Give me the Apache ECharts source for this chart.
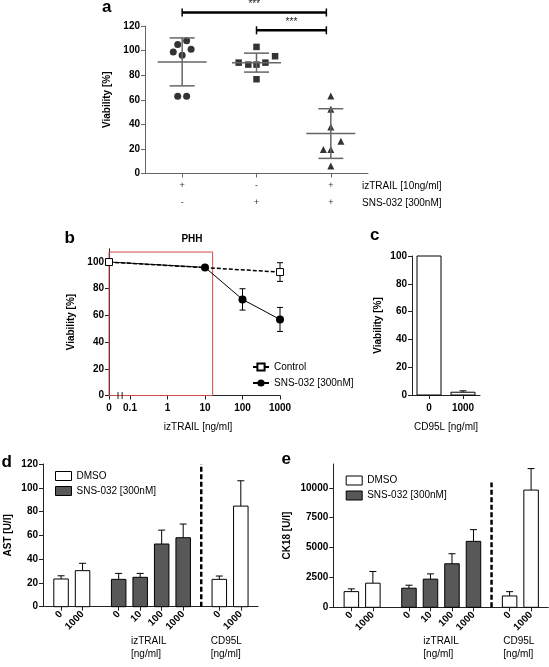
<!DOCTYPE html>
<html><head><meta charset="utf-8">
<script src="https://cdn.jsdelivr.net/npm/echarts@6/dist/echarts.min.js"></script>
<style>html,body{margin:0;padding:0;background:#fff}#c{width:549px;height:667px}</style>
</head><body><div id="c"></div>
<script>
// ================= DATA =================
// Panel a: viability per condition (dot plot)
const trailSignA = ['+', '-', '+'];
const snsSignA   = ['-', '+', '+'];
const viaA1 = [98.9, 104.9, 107.9, 101.1, 96.2, 62.9, 62.9];
const viaA2 = [90.2, 88.6, 103.0, 88.6, 90.2, 95.4, 76.7];
const viaA3 = [63.1, 52.3, 37.9, 26.3, 19.5, 19.5, 6.2];
const meanA = [90.8, 90.2, 32.5];
const sdA   = [19.5, 7.7, 20.2];
const sigA  = [[0, 2, '***'], [1, 2, '***']];   // group from, group to, label
const sigLevelA = [131, 116.5];
const ticksA = [0, 20, 40, 60, 80, 100, 120];

// Panel b: PHH viability vs izTRAIL concentration
const concCtrlB = [0, 1000];
const ctrlB     = [100, 92.5];
const ctrlErrB  = [0, 7];
const concSnsB  = [0, 10, 100, 1000];
const snsB      = [100, 96, 72, 57];
const snsErrB   = [0, 0, 8, 9];
const tickConcB = [0, 0.1, 1, 10, 100, 1000];
const tickLabelsB = ['0', '0.1', '1', '10', '100', '1000'];
const boxB = [0, 16, 107.5];   // highlighted range: conc from, conc to, viability top

// Panel c: CD95L viability
const catsC = ['0', '1000'];
const viaC  = [100, 2];
const errC  = [0, 1];

// Panels d/e
const catsDE  = ['0', '1000', '0', '10', '100', '1000', '0', '1000'];
const treatDE = ['DMSO', 'DMSO', 'SNS', 'SNS', 'SNS', 'SNS', 'DMSO', 'DMSO'];
const groupDE = [0, 0, 1, 1, 1, 1, 2, 2];
const astD    = [23.3, 30.3, 23.0, 24.7, 52.7, 58.0, 23.0, 84.6];
const astErrD = [2.7, 6.2, 5.0, 3.3, 11.7, 11.5, 2.8, 21.3];
const ck18E    = [1313, 2020, 1600, 2357, 3645, 5522, 950, 9815];
const ck18ErrE = [230, 980, 250, 440, 840, 980, 360, 1800];
const ticksE = [0, 2500, 5000, 7500, 10000];

// ================= LAYOUT =================
const FONT = '"Liberation Sans", Arial, sans-serif';
const jitA = [
  [-0.12, -0.06, 0.06, 0.12, 0, -0.06, 0.06],
  [-0.24, -0.11, 0, 0, 0.12, 0.25, 0],
  [0, 0, 0, 0.135, -0.1, 0, 0]
];
const ZERO_B = -1.56;
const xB = c => c === 0 ? ZERO_B : Math.log10(c);
const tickPosB = tickConcB.map(xB);

// bar positions for d/e
const posDE = [];
(function () {
  let p = 0.84;
  for (let i = 0; i < groupDE.length; i++) {
    if (i > 0) p += (groupDE[i] !== groupDE[i - 1]) ? 1.68 : 1;
    posDE.push(+p.toFixed(3));
  }
})();
let dashX = 0;
for (let i = 1; i < groupDE.length; i++) if (groupDE[i] === 2 && groupDE[i - 1] === 1) dashX = (posDE[i] + posDE[i - 1]) / 2;

const txt = (bold, size) => ({ fontFamily: FONT, fontSize: size || 10, fontWeight: bold ? 'bold' : 'normal', color: '#000' });

function axisBase(color) {
  return {
    axisLine: { show: true, onZero: false, lineStyle: { color: color || '#222', width: 1 } },
    axisTick: { show: true, length: 4, lineStyle: { color: color || '#222', width: 1 } },
    splitLine: { show: false },
    axisLabel: Object.assign(txt(true, 10), { margin: 5 })
  };
}

function errBarItem(capHalf) {
  return function (params, api) {
    const x = api.value(0), v = api.value(1), e = api.value(2);
    if (!e) return null;
    const a = api.coord([x, v + e]), b = api.coord([x, v - e]);
    const st = { stroke: '#000', lineWidth: 1 };
    return { type: 'group', children: [
      { type: 'line', shape: { x1: a[0], y1: a[1], x2: b[0], y2: b[1] }, style: st },
      { type: 'line', shape: { x1: a[0] - capHalf, y1: a[1], x2: a[0] + capHalf, y2: a[1] }, style: st },
      { type: 'line', shape: { x1: b[0] - capHalf, y1: b[1], x2: b[0] + capHalf, y2: b[1] }, style: st }
    ]};
  };
}

function barItem(fill, w) {
  return function (params, api) {
    const x = api.value(0), v = api.value(1), e = api.value(2);
    const p0 = api.coord([x, 0]), p1 = api.coord([x, v]), pe = api.coord([x, v + e]);
    const st = { stroke: '#000', lineWidth: 1 };
    const ch = [];
    if (e) {
      ch.push({ type: 'line', shape: { x1: p1[0], y1: p1[1], x2: pe[0], y2: pe[1] }, style: st });
      ch.push({ type: 'line', shape: { x1: pe[0] - 3.5, y1: pe[1], x2: pe[0] + 3.5, y2: pe[1] }, style: st });
    }
    ch.push({ type: 'rect', shape: { x: p0[0] - w / 2, y: p1[1], width: w, height: p0[1] - p1[1] }, style: { fill: fill, stroke: '#000', lineWidth: 1 } });
    return { type: 'group', children: ch };
  };
}

const chart = echarts.init(document.getElementById('c'), null, { renderer: 'canvas' });

const option = {
  animation: false,
  backgroundColor: '#fff',
  textStyle: { fontFamily: FONT },
  grid: [
    { left: 145, top: 26, width: 223, height: 147.5 },
    { left: 109, top: 248.7, width: 171, height: 146.8 },
    { left: 412, top: 256, width: 68, height: 139 },
    { left: 43, top: 464, width: 215, height: 142.7 },
    { left: 333.3, top: 464, width: 215, height: 143.3 }
  ],
  xAxis: [
    Object.assign(axisBase('#666'), {
      gridIndex: 0, type: 'value', min: 0, max: 3,
      axisTick: { show: true, length: 4, customValues: [0.5, 1.5, 2.5], lineStyle: { color: '#666' } },
      axisLabel: Object.assign(txt(false, 9), {
        customValues: [0.5, 1.5, 2.5], lineHeight: 17, margin: 4, color: '#333',
        formatter: v => { const i = Math.round(v - 0.5); return trailSignA[i] + '\n' + snsSignA[i]; }
      })
    }),
    Object.assign(axisBase(), {
      gridIndex: 1, type: 'value', min: ZERO_B, max: 3,
      axisTick: { show: true, length: 4, customValues: tickPosB, lineStyle: { color: '#222' } },
      axisLabel: Object.assign(txt(true, 10), {
        customValues: tickPosB, margin: 8,
        formatter: v => { const i = tickPosB.findIndex(t => Math.abs(t - v) < 1e-6); return i >= 0 ? tickLabelsB[i] : ''; }
      }),
      name: 'izTRAIL [ng/ml]', nameLocation: 'middle', nameGap: 27,
      nameTextStyle: Object.assign(txt(false, 10), { padding: [0, 0, 0, 7] })
    }),
    Object.assign(axisBase(), {
      gridIndex: 2, type: 'category', data: catsC, boundaryGap: true,
      axisTick: { show: true, length: 4, alignWithLabel: true, lineStyle: { color: '#222' } },
      axisLabel: Object.assign(txt(true, 10), { margin: 8 }),
      name: 'CD95L [ng/ml]', nameLocation: 'middle', nameGap: 27,
      nameTextStyle: txt(false, 10)
    }),
    Object.assign(axisBase(), {
      gridIndex: 3, type: 'value', min: 0, max: 10,
      axisTick: { show: true, length: 4, customValues: posDE, lineStyle: { color: '#222' } },
      axisLabel: Object.assign(txt(true, 10), {
        customValues: posDE, rotate: 45, margin: 6,
        formatter: v => { const i = posDE.findIndex(t => Math.abs(t - v) < 1e-6); return i >= 0 ? catsDE[i] : ''; }
      })
    }),
    Object.assign(axisBase(), {
      gridIndex: 4, type: 'value', min: 0, max: 10,
      axisTick: { show: true, length: 4, customValues: posDE, lineStyle: { color: '#222' } },
      axisLabel: Object.assign(txt(true, 10), {
        customValues: posDE, rotate: 45, margin: 6,
        formatter: v => { const i = posDE.findIndex(t => Math.abs(t - v) < 1e-6); return i >= 0 ? catsDE[i] : ''; }
      })
    })
  ],
  yAxis: [
    Object.assign(axisBase('#666'), {
      gridIndex: 0, type: 'value', min: 0, max: 120, interval: 20,
      name: 'Viability [%]', nameLocation: 'middle', nameGap: 33, nameTextStyle: txt(true, 10)
    }),
    Object.assign(axisBase(), {
      gridIndex: 1, type: 'value', min: 0, max: 110,
      axisTick: { show: true, length: 4, customValues: [0, 20, 40, 60, 80, 100], lineStyle: { color: '#222' } },
      axisLabel: Object.assign(txt(true, 10), { margin: 5, customValues: [0, 20, 40, 60, 80, 100] }),
      name: 'Viability [%]', nameLocation: 'middle', nameGap: 33, nameTextStyle: txt(true, 10)
    }),
    Object.assign(axisBase(), {
      gridIndex: 2, type: 'value', min: 0, max: 100, interval: 20,
      name: 'Viability [%]', nameLocation: 'middle', nameGap: 29, nameTextStyle: txt(true, 10)
    }),
    Object.assign(axisBase(), {
      gridIndex: 3, type: 'value', min: 0, max: 120, interval: 20,
      name: 'AST [U/l]', nameLocation: 'middle', nameGap: 30, nameTextStyle: txt(true, 10)
    }),
    Object.assign(axisBase(), {
      gridIndex: 4, type: 'value', min: 0, max: 12000,
      axisTick: { show: true, length: 4, customValues: ticksE, lineStyle: { color: '#222' } },
      axisLabel: Object.assign(txt(true, 10), { margin: 5, customValues: ticksE, formatter: v => String(v) }),
      name: 'CK18 [U/l]', nameLocation: 'middle', nameGap: 41, nameTextStyle: txt(true, 10)
    })
  ],
  legend: [
    {
      left: 247, top: 357, orient: 'vertical', itemWidth: 16, itemHeight: 9, itemGap: 6,
      data: ['Control', 'SNS-032 [300nM]'], textStyle: txt(false, 10), selectedMode: false
    },
    {
      left: 50, top: 466, orient: 'vertical', itemWidth: 16, itemHeight: 9, itemGap: 5, icon: 'rect',
      data: ['DMSO', 'SNS'], textStyle: txt(false, 10), selectedMode: false,
      itemStyle: { borderColor: '#000', borderWidth: 1 },
      formatter: n => n === 'SNS' ? 'SNS-032 [300nM]' : n
    },
    {
      left: 340.7, top: 470.5, orient: 'vertical', itemWidth: 16, itemHeight: 9, itemGap: 5, icon: 'rect',
      data: ['DMSO', 'SNS'], textStyle: txt(false, 10), selectedMode: false,
      itemStyle: { borderColor: '#000', borderWidth: 1 },
      formatter: n => n === 'SNS' ? 'SNS-032 [300nM]' : n
    }
  ],
  series: [
    // ---------- a ----------
    { type: 'scatter', xAxisIndex: 0, yAxisIndex: 0, symbol: 'circle', symbolSize: 7, itemStyle: { color: '#000' },
      data: viaA1.map((v, i) => [0.5 + jitA[0][i], v]) },
    { type: 'scatter', xAxisIndex: 0, yAxisIndex: 0, symbol: 'rect', symbolSize: 6.5, itemStyle: { color: '#000' },
      data: viaA2.map((v, i) => [1.5 + jitA[1][i], v]) },
    { type: 'scatter', xAxisIndex: 0, yAxisIndex: 0, symbol: 'triangle', symbolSize: 7, itemStyle: { color: '#000' },
      data: viaA3.map((v, i) => [2.5 + jitA[2][i], v]) },
    { type: 'custom', xAxisIndex: 0, yAxisIndex: 0, z: 5, clip: false,
      data: meanA.map((m, i) => [i + 0.5, m, sdA[i]]),
      renderItem: function (params, api) {
        const x = api.value(0), m = api.value(1), sd = api.value(2);
        const c = api.coord([x, m]), t = api.coord([x, m + sd]), b = api.coord([x, m - sd]);
        const st = { stroke: '#666', lineWidth: 1.5 };
        return { type: 'group', children: [
          { type: 'line', shape: { x1: c[0] - 24.5, y1: c[1], x2: c[0] + 24.5, y2: c[1] }, style: st },
          { type: 'line', shape: { x1: t[0], y1: t[1], x2: b[0], y2: b[1] }, style: st },
          { type: 'line', shape: { x1: t[0] - 12.5, y1: t[1], x2: t[0] + 12.5, y2: t[1] }, style: st },
          { type: 'line', shape: { x1: b[0] - 12.5, y1: b[1], x2: b[0] + 12.5, y2: b[1] }, style: st }
        ]};
      }
    },
    { type: 'custom', xAxisIndex: 0, yAxisIndex: 0, z: 6, clip: false,
      data: sigA.map((s, i) => [s[0] + 0.5, s[1] + 0.44, sigLevelA[i], s[2]]),
      renderItem: function (params, api) {
        const a = api.coord([api.value(0), api.value(2)]), b = api.coord([api.value(1), api.value(2)]);
        const st = { stroke: '#000', lineWidth: 2.5 };
        return { type: 'group', children: [
          { type: 'line', shape: { x1: a[0], y1: a[1], x2: b[0], y2: b[1] }, style: st },
          { type: 'line', shape: { x1: a[0], y1: a[1] - 4, x2: a[0], y2: a[1] + 4 }, style: { stroke: '#000', lineWidth: 1.5 } },
          { type: 'line', shape: { x1: b[0], y1: b[1] - 4, x2: b[0], y2: b[1] + 4 }, style: { stroke: '#000', lineWidth: 1.5 } },
          { type: 'text', x: (a[0] + b[0]) / 2, y: a[1] - 3, style: { text: sigA[params.dataIndex][2], fill: '#222', font: '10px ' + FONT, textAlign: 'center', textVerticalAlign: 'bottom' } }
        ]};
      }
    },
    // ---------- b ----------
    { type: 'line', name: 'SNS-032 [300nM]', xAxisIndex: 1, yAxisIndex: 1, z: 3,
      data: concSnsB.map((c, i) => [xB(c), snsB[i]]),
      symbol: 'circle', symbolSize: 8, showAllSymbol: true,
      lineStyle: { color: '#000', width: 1 }, itemStyle: { color: '#000' },
      markArea: { silent: true, itemStyle: { color: 'rgba(0,0,0,0)', borderColor: '#d24a4a', borderWidth: 1 },
        data: [[{ xAxis: xB(boxB[0]), yAxis: 0 }, { xAxis: xB(boxB[1]), yAxis: boxB[2] }]] }
    },
    { type: 'line', name: 'Control', xAxisIndex: 1, yAxisIndex: 1, z: 4,
      data: concCtrlB.map((c, i) => [xB(c), ctrlB[i]]),
      symbol: 'rect', symbolSize: 7, showAllSymbol: true,
      lineStyle: { color: '#000', width: 1.5, type: [4, 2] },
      itemStyle: { color: '#fff', borderColor: '#000', borderWidth: 1 }
    },
    { type: 'custom', xAxisIndex: 1, yAxisIndex: 1, z: 2, renderItem: errBarItem(3),
      data: concSnsB.map((c, i) => [xB(c), snsB[i], snsErrB[i]]).concat(concCtrlB.map((c, i) => [xB(c), ctrlB[i], ctrlErrB[i]])) },
    { type: 'custom', xAxisIndex: 1, yAxisIndex: 1, z: 6, clip: false,
      data: [[ZERO_B + 0.24], [ZERO_B + 0.35]],
      renderItem: function (params, api) {
        const p = api.coord([api.value(0), 0]);
        return { type: 'line', shape: { x1: p[0], y1: p[1] - 3.5, x2: p[0], y2: p[1] + 3.5 }, style: { stroke: '#222', lineWidth: 1 } };
      }
    },
    // ---------- c ----------
    { type: 'custom', xAxisIndex: 2, yAxisIndex: 2, renderItem: barItem('#fff', 24),
      data: viaC.map((v, i) => [i, v, errC[i]]) },
    // ---------- d ----------
    { type: 'custom', name: 'DMSO', xAxisIndex: 3, yAxisIndex: 3, itemStyle: { color: '#fff' }, renderItem: barItem('#fff', 14.5),
      data: astD.map((v, i) => [posDE[i], v, astErrD[i]]).filter((d, i) => treatDE[i] === 'DMSO') },
    { type: 'custom', name: 'SNS', xAxisIndex: 3, yAxisIndex: 3, itemStyle: { color: '#585858' }, renderItem: barItem('#585858', 14.5),
      data: astD.map((v, i) => [posDE[i], v, astErrD[i]]).filter((d, i) => treatDE[i] === 'SNS') },
    { type: 'line', xAxisIndex: 3, yAxisIndex: 3, symbol: 'none', z: 5,
      lineStyle: { color: '#000', width: 2.5, type: [5, 2.5] }, data: [[dashX, 0], [dashX, 120]] },
    // ---------- e ----------
    { type: 'custom', name: 'DMSO', xAxisIndex: 4, yAxisIndex: 4, itemStyle: { color: '#fff' }, renderItem: barItem('#fff', 14.5),
      data: ck18E.map((v, i) => [posDE[i], v, ck18ErrE[i]]).filter((d, i) => treatDE[i] === 'DMSO') },
    { type: 'custom', name: 'SNS', xAxisIndex: 4, yAxisIndex: 4, itemStyle: { color: '#585858' }, renderItem: barItem('#585858', 14.5),
      data: ck18E.map((v, i) => [posDE[i], v, ck18ErrE[i]]).filter((d, i) => treatDE[i] === 'SNS') },
    { type: 'line', xAxisIndex: 4, yAxisIndex: 4, symbol: 'none', z: 5,
      lineStyle: { color: '#000', width: 2.5, type: [5, 2.5] }, data: [[dashX, 0], [dashX, 10450]] }
  ],
  graphic: [
    { type: 'text', x: 102, y: 7.5, style: { text: 'a', font: 'bold 17px ' + FONT, fill: '#000', textVerticalAlign: 'middle' } },
    { type: 'text', x: 64.5, y: 238.5, style: { text: 'b', font: 'bold 17px ' + FONT, fill: '#000', textVerticalAlign: 'middle' } },
    { type: 'text', x: 370, y: 235, style: { text: 'c', font: 'bold 17px ' + FONT, fill: '#000', textVerticalAlign: 'middle' } },
    { type: 'text', x: 1.5, y: 462, style: { text: 'd', font: 'bold 17px ' + FONT, fill: '#000', textVerticalAlign: 'middle' } },
    { type: 'text', x: 281.5, y: 459.5, style: { text: 'e', font: 'bold 17px ' + FONT, fill: '#000', textVerticalAlign: 'middle' } },
    { type: 'text', x: 192, y: 239, style: { text: 'PHH', font: 'bold 10px ' + FONT, fill: '#000', textAlign: 'center', textVerticalAlign: 'middle' } },
    { type: 'text', x: 362, y: 186.5, style: { text: 'izTRAIL [10ng/ml]', font: '10px ' + FONT, fill: '#000', textVerticalAlign: 'middle' } },
    { type: 'text', x: 362, y: 203, style: { text: 'SNS-032 [300nM]', font: '10px ' + FONT, fill: '#000', textVerticalAlign: 'middle' } },
    { type: 'text', x: 131, y: 648, style: { text: 'izTRAIL\n[ng/ml]', font: '10px ' + FONT, fill: '#000', lineHeight: 13, textVerticalAlign: 'middle' } },
    { type: 'text', x: 210.7, y: 648, style: { text: 'CD95L\n[ng/ml]', font: '10px ' + FONT, fill: '#000', lineHeight: 13, textVerticalAlign: 'middle' } },
    { type: 'text', x: 423.3, y: 648, style: { text: 'izTRAIL\n[ng/ml]', font: '10px ' + FONT, fill: '#000', lineHeight: 13, textVerticalAlign: 'middle' } },
    { type: 'text', x: 503.3, y: 648, style: { text: 'CD95L\n[ng/ml]', font: '10px ' + FONT, fill: '#000', lineHeight: 13, textVerticalAlign: 'middle' } }
  ]
};
chart.setOption(option);
</script></body></html>
